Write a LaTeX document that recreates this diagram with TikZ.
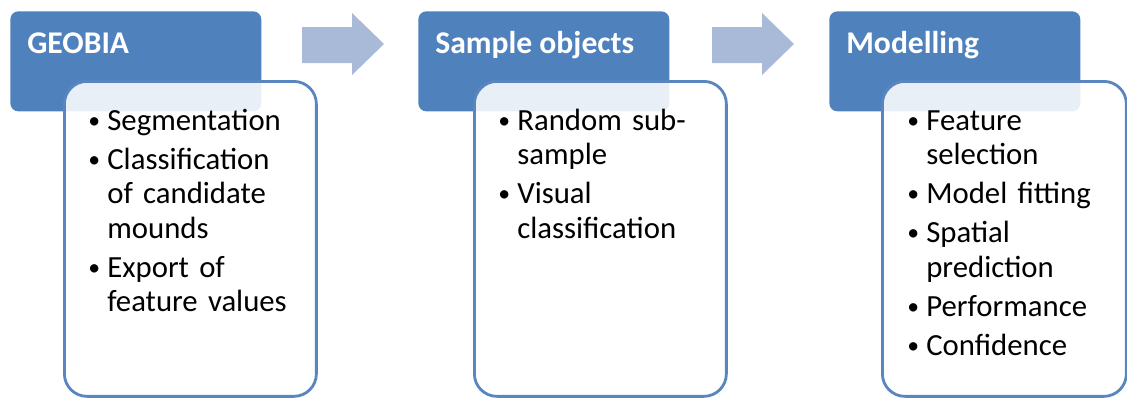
\documentclass[tikz,border=0pt]{standalone}
\usepackage{fontspec}
\setmainfont{Carlito}
\usetikzlibrary{positioning}

\definecolor{headblue}{HTML}{4F81BD}
\definecolor{frameblue}{HTML}{5A86BF}
\definecolor{arrowblue}{HTML}{A8BAD8}

% list font and spacing
\newcommand{\listfont}{\fontsize{17.5}{19.6}\selectfont\raggedright
  \setlength{\parskip}{2.6pt}\setlength{\spaceskip}{0.21em}}
% bullet with hanging indent
\newcommand{\bitem}{\par\hangindent=.38cm\hangafter=1\noindent
  \makebox[.38cm][l]{\raisebox{1.2pt}{\fontsize{13.5}{13.5}\selectfont\textbullet}}}

\tikzset{
  headbox/.style={fill=headblue, rounded corners=1.6mm, anchor=north west,
    inner sep=0, minimum width=5.02cm, minimum height=2cm},
  headtext/.style={text=white, anchor=base west, inner sep=0,
    font=\fontsize{18}{20}\selectfont\bfseries},
  listbox/.style={draw=frameblue, line width=1.6pt, fill=white, fill opacity=.88,
    rounded corners=4.5mm, anchor=north west, inner sep=0,
    minimum width=5.04cm, minimum height=6.3cm},
  listtext/.style={anchor=north west, inner sep=0, text width=5cm, font=\listfont},
  stagearrow/.style={fill=arrowblue}
}

\begin{document}
\begin{tikzpicture}[x=.02cm, y=-.02cm]
  \useasboundingbox (0,0) rectangle (1127,397);

  % arrows between stages
  \fill[stagearrow] (302,27) -- (352,27) -- (352,13) -- (384,44) -- (352,75) -- (352,63) -- (302,63) -- cycle;
  \fill[stagearrow] (712,27) -- (762,27) -- (762,13) -- (794,44) -- (762,75) -- (762,63) -- (712,63) -- cycle;

  % headers
  \node[headbox] (geobia) at (10,11) {};
  \node[headbox] (sample) at (418,11) {};
  \node[headbox] (model) at (829,11) {};
  \node[headtext] (geobia-t) at (27,53) {GEOBIA};
  \node[headtext] (sample-t) at (435,53) {Sample objects};
  \node[headtext] (model-t) at (846,53) {Modelling};

  % lists
  \node[listbox] (geobia-b) at (63,80) {};
  \node[listbox] (sample-b) at (473,80) {};
  \node[listbox, minimum width=4.88cm] (model-b) at (881,80) {};

  \node[listtext] (geobia-l) at (88,91) {%
    \bitem Segmentation
    \bitem Classification\newline of candidate\newline mounds
    \bitem Export of\newline feature values\par};
  \node[listtext] (sample-l) at (498,91) {%
    \bitem Random sub-\newline sample
    \bitem Visual\newline classification\par};
  \node[listtext] (model-l) at (907,91) {%
    \bitem Feature\newline selection
    \bitem Model fitting
    \bitem Spatial\newline prediction
    \bitem Performance
    \bitem Confidence\par};
\end{tikzpicture}
\end{document}
